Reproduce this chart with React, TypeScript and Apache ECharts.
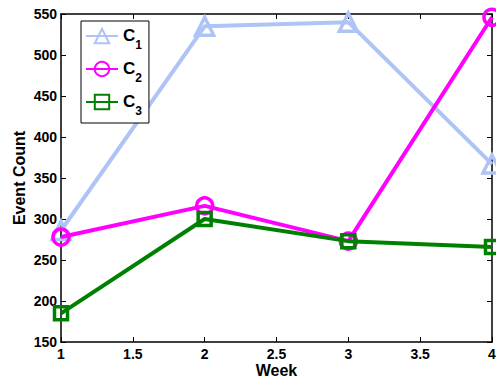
import React, { useEffect, useRef } from "react";
import * as echarts from "echarts";

const weeks = [1, 2, 3, 4];
const c1 = [286, 535, 540, 367];
const c2 = [278, 316, 273, 546];
const c3 = [185, 300, 273, 266];
const seriesNames = ["C1", "C2", "C3"];
const colors = ["#aec4f6", "#ff00ff", "#008000"];
const symbols = ["triangle", "circle", "rect"];
const symbolSizes = [18, 16, 13];

export default function App() {
  const ref = useRef<HTMLDivElement>(null);
  useEffect(() => {
    const chart = echarts.init(ref.current!, null, { renderer: "svg" });
    const font = "'Liberation Sans', Arial, sans-serif";
    const datasets = [c1, c2, c3];
    const axisLine = { show: true, lineStyle: { color: "#000", width: 1.5 } };
    const tick = { show: true, inside: true, length: 5, lineStyle: { color: "#000", width: 1 } };
    chart.setOption({
      animation: false,
      grid: { left: 61, right: 4, top: 14, bottom: 38, containLabel: false, outerBoundsMode: "none" },
      xAxis: [
        {
          type: "value", min: 1, max: 4, interval: 0.5,
          axisLine, axisTick: tick, splitLine: { show: false },
          axisLabel: { color: "#000", fontWeight: "bold", fontSize: 14, lineHeight: 14, fontFamily: font, margin: 5 },
          name: "Week", nameLocation: "middle", nameGap: 20, nameMoveOverlap: false,
          nameTextStyle: { color: "#000", fontWeight: "bold", fontSize: 16, lineHeight: 16, fontFamily: font },
        },
        {
          type: "value", min: 1, max: 4, interval: 0.5, position: "top",
          axisLine, axisTick: tick, splitLine: { show: false }, axisLabel: { show: false },
        },
      ],
      yAxis: [
        {
          type: "value", min: 150, max: 550, interval: 50,
          axisLine, axisTick: tick, splitLine: { show: false },
          axisLabel: { color: "#000", fontWeight: "bold", fontSize: 14, fontFamily: font, margin: 4 },
          name: "Event Count", nameLocation: "middle", nameGap: 34, nameMoveOverlap: false,
          nameTextStyle: { color: "#000", fontWeight: "bold", fontSize: 16, lineHeight: 16, fontFamily: font },
        },
        {
          type: "value", min: 150, max: 550, interval: 50, position: "right",
          axisLine, axisTick: tick, splitLine: { show: false }, axisLabel: { show: false },
        },
      ],
      legend: {
        left: 81, top: 21, orient: "vertical",
        backgroundColor: "#fff", borderColor: "#000", borderWidth: 1,
        padding: [6, 7, 6, 4], itemGap: 9, itemWidth: 32, itemHeight: 18,
        data: seriesNames,
        formatter: (n: string) => `{b|C}{s|${n.slice(1)}}`,
        textStyle: {
          color: "#000",
          rich: {
            b: { fontSize: 17, fontWeight: "bold", fontFamily: font, color: "#000", verticalAlign: "top", lineHeight: 18, padding: [0, 0, 4, 0] },
            s: { fontSize: 12, fontWeight: "bold", fontFamily: font, color: "#000", verticalAlign: "top", lineHeight: 10, padding: [12, 0, 0, 0] },
          },
        },
      },
      series: seriesNames.map((name, i) => ({
        name,
        type: "line",
        data: weeks.map((w, j) => [w, datasets[i][j]]),
        symbol: symbols[i],
        symbolSize: symbolSizes[i],
        showAllSymbol: true,
        lineStyle: { color: colors[i], width: 4 },
        itemStyle: { color: "rgba(255,255,255,0)", borderColor: colors[i], borderWidth: 3.5 },
        emphasis: { disabled: true },
        z: 2 + i,
      })),
    });
    return () => chart.dispose();
  }, []);
  return <div ref={ref} style={{ width: 496, height: 380, position: "absolute", left: 0, top: 0, background: "#fff" }} />;
}
